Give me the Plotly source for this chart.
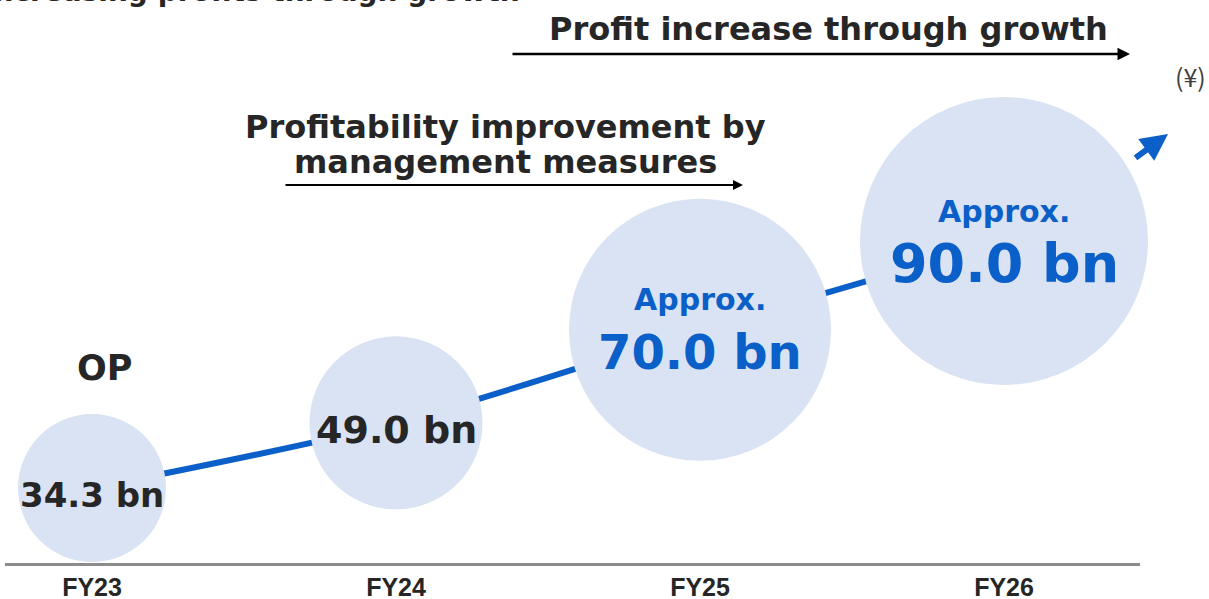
import plotly.graph_objects as go

# ---- data ----
years = ["FY23", "FY24", "FY25", "FY26"]
op_values = [34.3, 49.0, 70.0, 90.0]          # operating profit, ¥ bn
prefixes = ["", "", "Approx.", "Approx."]

# ---- styles ----
W, H = 1209, 599
ML, MR, MT, MB = 5, 69, 0, 36
BLUE = "#0A5FC8"
DARK = "#262626"
BUBBLE = "#DAE3F3"
bubble_diam = [148, 173, 262, 288]
value_font = [34, 38, 48, 54]
value_color = [DARK, DARK, BLUE, BLUE]
FONT = "DejaVu Sans"

PW, PH = W - ML - MR, H - MT - MB


def px(xp):
    return (xp - ML) / PW


def py(yp):
    return (H - MB - yp) / PH


fig = go.Figure()

# connecting curve (behind bubbles)
fig.add_trace(go.Scatter(
    x=years, y=op_values, mode="lines",
    line=dict(color=BLUE, width=6, shape="spline", smoothing=0.8),
    cliponaxis=False, hoverinfo="skip", showlegend=False))

# bubbles
fig.add_trace(go.Scatter(
    x=years, y=op_values, mode="markers",
    marker=dict(size=bubble_diam, sizemode="diameter", color=BUBBLE,
                line=dict(width=0), opacity=1),
    cliponaxis=False, hoverinfo="skip", showlegend=False))

annotations = []
for i, (yr, v, pre) in enumerate(zip(years, op_values, prefixes)):
    label = f"{v:.1f} bn"
    if pre:
        annotations.append(dict(
            x=yr, y=v, xref="x", yref="y", text=f"<b>{pre}</b>", showarrow=False,
            font=dict(family=FONT, size=30, color=value_color[i]),
            xanchor="center", yanchor="middle", yshift=30))
        annotations.append(dict(
            x=yr, y=v, xref="x", yref="y", text=f"<b>{label}</b>", showarrow=False,
            font=dict(family=FONT, size=value_font[i], color=value_color[i]),
            xanchor="center", yanchor="middle", yshift=-22))
    else:
        annotations.append(dict(
            x=yr, y=v, xref="x", yref="y", text=f"<b>{label}</b>", showarrow=False,
            font=dict(family=FONT, size=value_font[i], color=value_color[i]),
            xanchor="center", yanchor="middle", yshift=-7))


# static texts
def txt(x, y, s, size, color=DARK, bold=True, xanchor="center", family=FONT):
    annotations.append(dict(
        x=px(x), y=py(y), xref="paper", yref="paper",
        text=f"<b>{s}</b>" if bold else s, showarrow=False,
        font=dict(family=family, size=size, color=color),
        xanchor=xanchor, yanchor="middle"))

txt(522, -9, "Increasing profits through growth", 28, xanchor="right")
txt(828, 29, "Profit increase through growth", 32)
txt(505, 127, "Profitability improvement by", 32)
txt(505, 162, "management measures", 32)
txt(104, 368, "OP", 35)
txt(1208, 76, "(¥)", 25, color="#404040", bold=False, xanchor="right",
    family="Noto Sans CJK JP")


# arrows
def arrow(x0, y0, x1, y1, color, width, head, size):
    annotations.append(dict(
        x=px(x1), y=py(y1), xref="paper", yref="paper",
        ax=x0 - x1, ay=y0 - y1, axref="pixel", ayref="pixel",
        text="", showarrow=True, arrowhead=head, arrowsize=size,
        arrowwidth=width, arrowcolor=color, standoff=0, startstandoff=0))

arrow(511, 54, 1130, 54, "black", 2.5, 2, 1.0)
arrow(284, 185, 743, 185, "black", 2, 2, 1.0)
arrow(1134, 159, 1168, 134, BLUE, 6, 2, 0.9)

x_first = 92
x_step = 304
fig.update_layout(
    width=W, height=H,
    margin=dict(l=ML, r=MR, t=MT, b=MB, autoexpand=False),
    paper_bgcolor="white", plot_bgcolor="white",
    showlegend=False,
    annotations=annotations,
    xaxis=dict(
        type="category", categoryorder="array", categoryarray=years,
        tickvals=years, ticktext=[f"<b>{y}</b>" for y in years],
        range=[-(x_first - ML) / x_step, (W - MR - x_first) / x_step],
        showgrid=False, zeroline=False, automargin=False,
        showline=True, linecolor="#8C8C8C", linewidth=3,
        ticks="", tickfont=dict(family="Liberation Sans", size=25, color=DARK),
        ticklabelstandoff=0,
    ),
    yaxis=dict(range=[17.39, 144.36], visible=False, showgrid=False,
               zeroline=False, automargin=False),
)

fig.write_html(
    "out.html", config={"displayModeBar": False},
    post_script=(
        "document.documentElement.style.margin='0';"
        "document.documentElement.style.overflow='hidden';"
        "document.body.style.margin='0';"
        "document.body.style.overflow='hidden';"
    ))
